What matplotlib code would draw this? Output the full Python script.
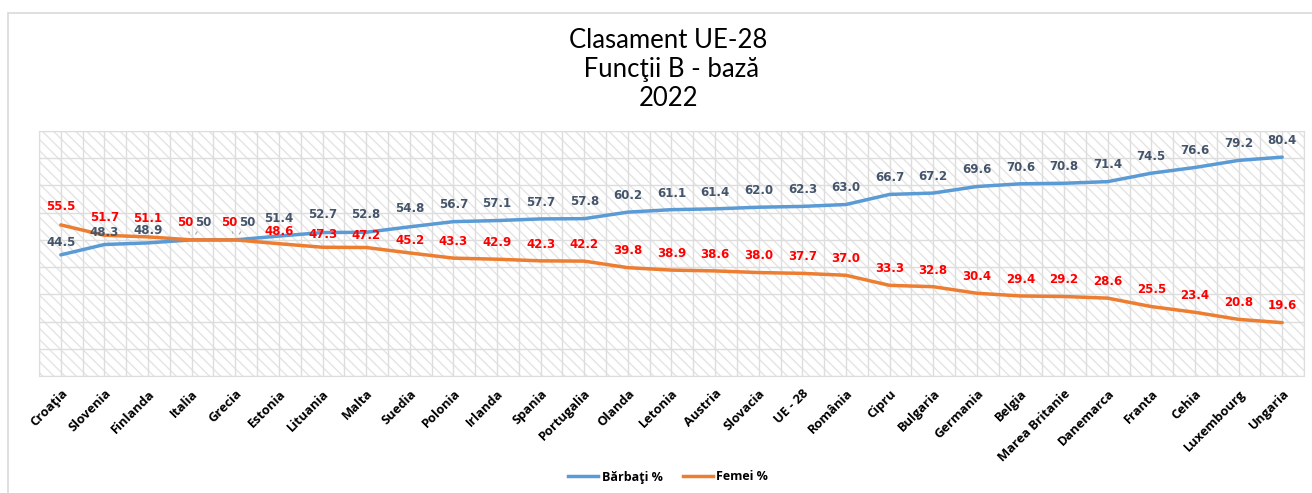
import matplotlib
matplotlib.use('Agg')
import matplotlib.pyplot as plt
from matplotlib.patches import Rectangle
from matplotlib.lines import Line2D

# ----------------------------
# Data
# ----------------------------
countries = ['Croaţia', 'Slovenia', 'Finlanda', 'Italia', 'Grecia', 'Estonia', 'Lituania',
             'Malta', 'Suedia', 'Polonia', 'Irlanda', 'Spania', 'Portugalia', 'Olanda',
             'Letonia', 'Austria', 'Slovacia', 'UE - 28', 'România', 'Cipru', 'Bulgaria',
             'Germania', 'Belgia', 'Marea Britanie', 'Danemarca', 'Franta', 'Cehia',
             'Luxembourg', 'Ungaria']
barbati = [44.5, 48.3, 48.9, 50, 50, 51.4, 52.7, 52.8, 54.8, 56.7, 57.1, 57.7, 57.8, 60.2,
           61.1, 61.4, 62.0, 62.3, 63.0, 66.7, 67.2, 69.6, 70.6, 70.8, 71.4, 74.5, 76.6,
           79.2, 80.4]
femei = [55.5, 51.7, 51.1, 50, 50, 48.6, 47.3, 47.2, 45.2, 43.3, 42.9, 42.3, 42.2, 39.8,
         38.9, 38.6, 38.0, 37.7, 37.0, 33.3, 32.8, 30.4, 29.4, 29.2, 28.6, 25.5, 23.4,
         20.8, 19.6]

c_men = '#5B9BD5'
c_women = '#ED7D31'
c_men_lbl = '#44546A'
c_women_lbl = '#FF0000'
grid_c = '#DDDDDD'

plt.rcParams['hatch.linewidth'] = 1.0

W, H = 1312, 493
fig = plt.figure(figsize=(W / 100, H / 100), dpi=100)
ax = fig.add_axes([39 / W, 1 - 376 / H, (1304 - 39) / W, (376 - 131) / H])

# hatched plot area background
ax.add_patch(Rectangle((0, 0), 1, 1, transform=ax.transAxes, facecolor='white',
                       edgecolor='#E4E4E4', hatch='\\\\\\', linewidth=0, zorder=0))

x = list(range(len(countries)))
ax.plot(x, barbati, color=c_men, lw=2.5, solid_capstyle='round', zorder=3)
ax.plot(x, femei, color=c_women, lw=2.5, solid_capstyle='round', zorder=3)

ax.set_xlim(-0.5, len(countries) - 0.5)
ax.set_ylim(0, 90)
ax.set_yticks(range(0, 91, 10))
ax.set_xticks(x)
ax.set_xticks([i + 0.5 for i in range(-1, len(countries))], minor=True)
ax.grid(True, which='both', color=grid_c, lw=1.0, zorder=1)
ax.set_axisbelow(True)
ax.tick_params(axis='both', which='both', length=0)
ax.set_yticklabels([])
ax.set_xticklabels(countries, rotation=45, ha='right', rotation_mode='anchor',
                   fontsize=9.3, fontweight='bold', family='Open Sans')
ax.tick_params(axis='x', pad=8)
for s in ax.spines.values():
    s.set_color(grid_c)

# ----------------------------
# Data labels (pushed apart where the two series are close)
# ----------------------------
def fmt(v):
    return '50' if v == 50 else f'{v:.1f}'

lbl_kw = dict(textcoords='offset points', ha='center', va='center', fontsize=8.5,
              fontweight='bold', family='DejaVu Sans', zorder=5)
leader = dict(arrowstyle='-', color='#A6A6A6', lw=0.8, shrinkA=0, shrinkB=5)
for i, (m, f) in enumerate(zip(barbati, femei)):
    if m == f:
        ax.annotate(fmt(f), (i, f), xytext=(-4.5, 12.5), color=c_women_lbl,
                    arrowprops=leader, **lbl_kw)
        ax.annotate(fmt(m), (i, m), xytext=(8.5, 12.5), color=c_men_lbl,
                    arrowprops=leader, **lbl_kw)
        continue
    if abs(m - f) < 12:
        off_m, off_f = (13, 9) if m > f else (9, 13)
    else:
        off_m = off_f = 12
    ax.annotate(fmt(m), (i, m), xytext=(0, off_m), color=c_men_lbl, **lbl_kw)
    ax.annotate(fmt(f), (i, f), xytext=(0, off_f), color=c_women_lbl, **lbl_kw)

# ----------------------------
# Title, legend, chart border
# ----------------------------
fig.text(668 / W, 1 - 69 / H, 'Clasament UE-28\n Funcţii B - bază\n2022', ha='center',
         va='center', fontsize=18.5, family='Lato', linespacing=1.2)

handles = [Line2D([], [], color=c_men, lw=2.5), Line2D([], [], color=c_women, lw=2.5)]
fig.legend(handles, ['Bărbaţi %', 'Femei %'], loc='center', bbox_to_anchor=(668 / W, 1 - 477 / H),
           ncol=2, frameon=False, handlelength=2.4, handletextpad=0.3, columnspacing=1.6,
           prop=dict(family='Open Sans', weight='bold', size=9))

fig.patches.append(Rectangle((8 / W, -0.1), 1.1, 1 - 13 / H + 0.1, transform=fig.transFigure,
                             fill=False, edgecolor='#D9D9D9', lw=1.2))

fig.savefig('out.png', dpi=100)
